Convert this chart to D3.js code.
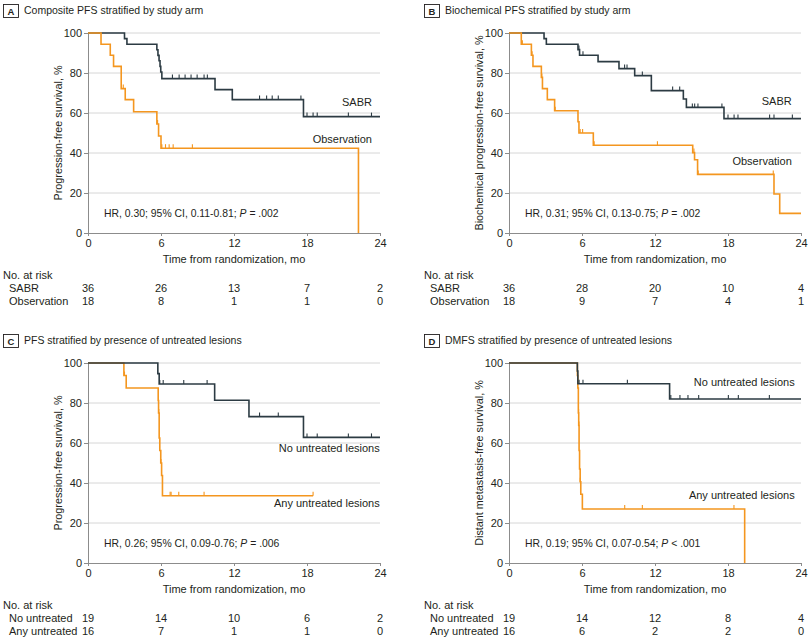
<!DOCTYPE html>
<html>
<head>
<meta charset="utf-8">
<script src="https://cdn.jsdelivr.net/npm/d3@7"></script>
<style>
  html, body { margin: 0; padding: 0; background: #fff; }
  svg { display: block; }
</style>
</head>
<body>
<svg id="chart" width="810" height="640"></svg>
<script>
// ---------------- DATA ----------------
const panelLetters = ["A", "B", "C", "D"];
const panelTitles = [
  "Composite PFS stratified by study arm",
  "Biochemical PFS stratified by study arm",
  "PFS stratified by presence of untreated lesions",
  "DMFS stratified by presence of untreated lesions"
];
const yTitles = [
  "Progression-free survival, %",
  "Biochemical progression-free survival, %",
  "Progression-free survival, %",
  "Distant metastasis-free survival, %"
];
const xTickValues = [0, 6, 12, 18, 24];
const yTickValues = [0, 20, 40, 60, 80, 100];
const xTitle = "Time from randomization, mo";
const riskHeader = "No. at risk";

const curveNames = [
  ["SABR", "Observation"],
  ["SABR", "Observation"],
  ["No untreated lesions", "Any untreated lesions"],
  ["No untreated lesions", "Any untreated lesions"]
];
const riskRowLabels = [
  ["SABR", "Observation"],
  ["SABR", "Observation"],
  ["No untreated", "Any untreated"],
  ["No untreated", "Any untreated"]
];
// HR text: [before italic P, italic, after]
const hrTexts = [
  ["HR, 0.30; 95% CI, 0.11-0.81; ", "P", " = .002"],
  ["HR, 0.31; 95% CI, 0.13-0.75; ", "P", " = .002"],
  ["HR, 0.26; 95% CI, 0.09-0.76; ", "P", " = .006"],
  ["HR, 0.19; 95% CI, 0.07-0.54; ", "P", " < .001"]
];

// Number at risk
const riskA_sabr = [36, 26, 13, 7, 2];
const riskA_obs  = [18, 8, 1, 1, 0];
const riskB_sabr = [36, 28, 20, 10, 4];
const riskB_obs  = [18, 9, 7, 4, 1];
const riskC_no   = [19, 14, 10, 6, 2];
const riskC_any  = [16, 7, 1, 1, 0];
const riskD_no   = [19, 14, 12, 8, 4];
const riskD_any  = [16, 6, 2, 2, 0];

// Kaplan-Meier steps: [time (mo), survival (%) after the event]
const kmA_sabr = [[0,100],[3.0,97.2],[3.2,94.4],[5.66,91.6],[5.75,88.8],[5.84,86.1],[5.92,83.3],[5.98,80.5],[6.07,77.2],[10.44,71.7],[11.86,66.7],[17.71,58.2]];
const kmA_sabr_end = 24;
const censA_sabr = [6.94,7.49,7.98,8.47,8.97,9.54,9.81,14.1,14.68,15.14,15.64,17.5,18.0,18.5,18.84,21.4,23.3];

const kmA_obs = [[0,100],[1.07,94.4],[1.83,88.9],[2.1,83.3],[2.73,72.2],[3.06,66.7],[3.75,60.6],[5.66,54.5],[5.8,48.5],[6.0,42.4],[22.23,0]];
const kmA_obs_end = 22.23;
const censA_obs = [2.9,5.72,6.07,6.37,6.67,7.0,8.58];

const kmB_sabr = [[0,100],[2.88,97.2],[3.07,94.4],[5.67,91.7],[5.8,88.9],[7.32,85.7],[9.04,82.2],[10.33,78.7],[11.7,71.2],[14.33,67.0],[14.58,62.8],[17.67,57.2]];
const kmB_sabr_end = 24;
const censB_sabr = [5.75,6.08,9.5,9.7,10.96,13.45,14.03,15.07,15.26,15.53,17.5,18.0,18.5,18.82,21.42,21.78,23.29];

const kmB_obs = [[0,100],[1.01,94.4],[1.84,88.9],[1.97,83.3],[2.66,77.8],[2.75,72.2],[3.15,66.7],[3.75,61.1],[5.67,55.6],[5.75,50.0],[6.93,43.9],[15.1,40.2],[15.25,36.6],[15.5,29.3],[21.78,19.5],[22.25,9.8]];
const kmB_obs_end = 24;
const censB_obs = [1.1,1.9,2.7,3.8,5.85,6.05,7.0,12.2,15.2,15.55,21.72];

const kmC_no = [[0,100],[5.74,94.7],[5.85,89.5],[10.41,81.4],[13.23,73.2],[17.71,62.8]];
const kmC_no_end = 24;
const censC_no = [5.9,6.18,7.87,9.79,14.1,15.64,18.0,18.84,21.4,23.3];

const kmC_any = [[0,100],[2.95,93.75],[3.14,87.5],[5.77,81.25],[5.8,75.0],[5.85,62.5],[5.9,56.25],[5.98,50.0],[6.05,43.75],[6.12,33.6]];
const kmC_any_end = 18.5;
const censC_any = [3.0,5.82,6.0,6.75,6.83,7.46,9.54,18.5];

const kmD_no = [[0,100],[5.62,96.0],[5.66,89.6],[13.2,82.0]];
const kmD_no_end = 24;
const censD_no = [5.76,6.08,9.73,13.3,14.05,14.71,15.59,18.03,18.85,21.4];

const kmD_any = [[0,100],[5.62,93.75],[5.66,87.5],[5.7,75.0],[5.73,68.75],[5.76,56.25],[5.8,47.0],[5.85,40.6],[5.9,34.4],[6.03,27.0],[19.37,0]];
const kmD_any_end = 19.37;
const censD_any = [5.72,5.75,5.86,9.51,10.96,18.49];

// ---------------- LAYOUT / STYLE ----------------
const COLORS = { dark: "#2c3b43", orange: "#f4961f", grid: "#d6d6d6", axis: "#8c8c8c", text: "#231f20" };
const FONT = `"Liberation Sans", Arial, sans-serif`;
const FS = { title: 10.5, letter: 9.5, tick: 11, axisTitle: 11, yTitle: 10.8, curve: 11, hr: 10.4, risk: 11 };

const panels = [
  { ox: 0,   oy: 0,   darkOnTop: false, curves: [[kmA_sabr, kmA_sabr_end, censA_sabr], [kmA_obs, kmA_obs_end, censA_obs]], risk: [riskA_sabr, riskA_obs],
    labelPos: [[23.34, 65.2], [23.34, 47.0]] },
  { ox: 421, oy: 0,   darkOnTop: false, curves: [[kmB_sabr, kmB_sabr_end, censB_sabr], [kmB_obs, kmB_obs_end, censB_obs]], risk: [riskB_sabr, riskB_obs],
    labelPos: [[23.24, 66.0], [23.24, 36.0]] },
  { ox: 0,   oy: 330, darkOnTop: true,  curves: [[kmC_no, kmC_no_end, censC_no], [kmC_any, kmC_any_end, censC_any]], risk: [riskC_no, riskC_any],
    labelPos: [[23.98, 57.2], [23.98, 30.0]] },
  { ox: 421, oy: 330, darkOnTop: true,  curves: [[kmD_no, kmD_no_end, censD_no], [kmD_any, kmD_any_end, censD_any]], risk: [riskD_no, riskD_any],
    labelPos: [[23.48, 90.5], [23.48, 33.85]] }
];
const hrPos = [1.32, 10];

const svg = d3.select("#chart").style("font-family", FONT);

function survAt(steps, t) {
  let v = steps[0][1];
  for (const [tt, s] of steps) { if (tt <= t) v = s; }
  return v;
}

panels.forEach((p, i) => {
  const g = svg.append("g").attr("transform", `translate(${p.ox},${p.oy})`);
  const x = d3.scaleLinear().domain([0, 24]).range([88, 380]);
  const y = d3.scaleLinear().domain([0, 100]).range([233, 33]);

  // Title box + title
  g.append("rect").attr("x", 3.5).attr("y", 4.5).attr("width", 15).attr("height", 13)
    .attr("fill", "#fff").attr("stroke", COLORS.text).attr("stroke-width", 0.9);
  g.append("text").attr("x", 11).attr("y", 11.2).attr("dy", "0.35em").attr("text-anchor", "middle")
    .attr("font-size", FS.letter).attr("font-weight", "bold").attr("fill", COLORS.text).text(panelLetters[i]);
  g.append("text").attr("x", 24).attr("y", 10.8).attr("dy", "0.35em")
    .attr("font-size", FS.title).attr("fill", COLORS.text).text(panelTitles[i]);

  // gridlines
  g.append("g").selectAll("line").data(yTickValues.filter(v => v > 0)).join("line")
    .attr("x1", x(0)).attr("x2", x(24)).attr("y1", d => y(d)).attr("y2", d => y(d))
    .attr("stroke", COLORS.grid).attr("stroke-width", 1);

  // axes
  const xAxis = g.append("g").attr("transform", `translate(0,${y(0)})`)
    .call(d3.axisBottom(x).tickValues(xTickValues).tickSize(3).tickPadding(3).tickFormat(d3.format("d")));
  const yAxis = g.append("g").attr("transform", `translate(${x(0)},0)`)
    .call(d3.axisLeft(y).tickValues(yTickValues).tickSize(4).tickPadding(2).tickFormat(d3.format("d")));
  [xAxis, yAxis].forEach(a => {
    a.select(".domain").attr("stroke", COLORS.axis);
    a.selectAll(".tick line").attr("stroke", COLORS.axis);
    a.selectAll("text").attr("font-family", FONT).attr("font-size", FS.tick).attr("fill", COLORS.text);
  });

  // axis titles
  g.append("text").attr("x", (x(0) + x(24)) / 2).attr("y", 259).attr("dy", "0.35em").attr("text-anchor", "middle")
    .attr("font-size", FS.axisTitle).attr("fill", COLORS.text).text(xTitle);
  g.append("text").attr("transform", `translate(58,${(y(0) + y(100)) / 2}) rotate(-90)`).attr("dy", "0.35em")
    .attr("text-anchor", "middle").attr("font-size", FS.yTitle).attr("fill", COLORS.text).text(yTitles[i]);

  // curves
  const line = d3.line().x(d => x(d[0])).y(d => y(d[1])).curve(d3.curveStepAfter);
  const colors = [COLORS.dark, COLORS.orange];
  const order = p.darkOnTop ? [1, 0] : [0, 1];
  order.forEach(k => {
    const [steps, end, cens] = p.curves[k];
    const pts = steps.concat([[end, steps[steps.length - 1][1]]]);
    g.append("path").datum(pts).attr("d", line).attr("fill", "none")
      .attr("stroke", colors[k]).attr("stroke-width", 1.6).attr("stroke-linejoin", "miter");
    g.append("g").selectAll("line").data(cens).join("line")
      .attr("x1", d => x(d)).attr("x2", d => x(d))
      .attr("y1", d => y(survAt(steps, d))).attr("y2", d => y(survAt(steps, d)) - 4)
      .attr("stroke", colors[k]).attr("stroke-width", 1.1);
  });
  p.curves.forEach((c, k) => {
    g.append("text").attr("x", x(p.labelPos[k][0])).attr("y", y(p.labelPos[k][1])).attr("dy", "0.35em")
      .attr("text-anchor", "end").attr("font-size", FS.curve).attr("fill", COLORS.text).text(curveNames[i][k]);
  });

  // HR text
  const hr = g.append("text").attr("x", x(hrPos[0])).attr("y", y(hrPos[1])).attr("dy", "0.35em")
    .attr("font-size", FS.hr).attr("fill", COLORS.text);
  hr.append("tspan").text(hrTexts[i][0]);
  hr.append("tspan").attr("font-style", "italic").text(hrTexts[i][1]);
  hr.append("tspan").text(hrTexts[i][2]);

  // risk table
  g.append("text").attr("x", 3).attr("y", 275).attr("dy", "0.35em").attr("font-size", FS.risk)
    .attr("fill", COLORS.text).text(riskHeader);
  p.risk.forEach((row, k) => {
    const ry = 288.5 + k * 12.7;
    g.append("text").attr("x", 9).attr("y", ry).attr("dy", "0.35em").attr("font-size", FS.risk)
      .attr("fill", COLORS.text).text(riskRowLabels[i][k]);
    g.append("g").selectAll("text").data(row).join("text")
      .attr("x", (d, j) => x(xTickValues[j])).attr("y", ry).attr("dy", "0.35em")
      .attr("text-anchor", "middle").attr("font-size", FS.risk).attr("fill", COLORS.text).text(d => d);
  });
});
</script>
</body>
</html>
